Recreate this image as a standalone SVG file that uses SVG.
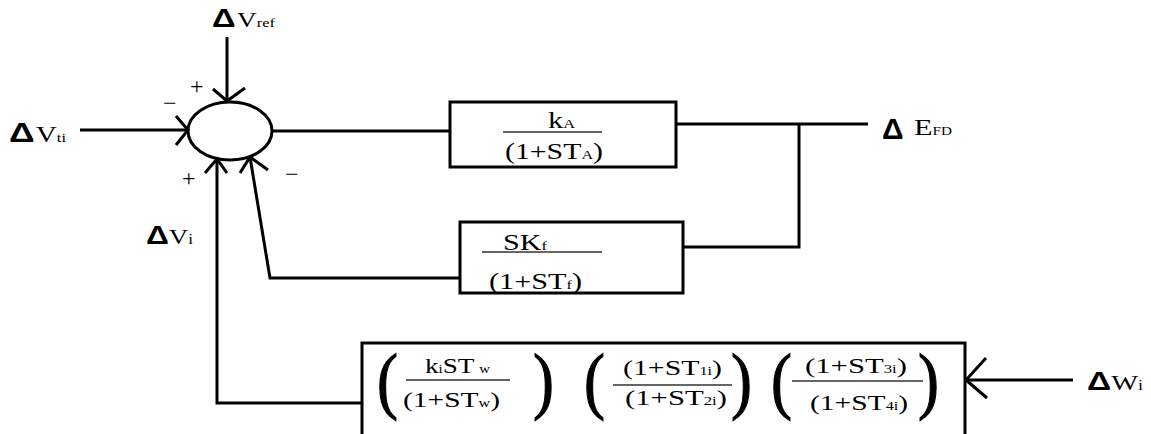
<svg xmlns="http://www.w3.org/2000/svg" width="1151" height="434" viewBox="0 0 1151 434">
<style>
.ln{fill:none;stroke:#000;stroke-width:3}
.bx{fill:#fff;stroke:#000;stroke-width:3}
.t{font-family:"Liberation Serif",serif;fill:#000}
.d{font-family:"Liberation Sans",sans-serif;font-weight:bold;fill:#000}
.bar{stroke:#333;stroke-width:1.5}
.sg{font-family:"Liberation Serif",serif;fill:#000}
.p{font-family:"Liberation Serif",serif;fill:#000;stroke:#000;stroke-width:1.2;font-size:74px}
</style>
<rect width="1151" height="434" fill="#fff"/>
<g id="connectors">
<path class="ln" d="M227,37 V102"/>
<path class="ln" d="M213,89 L227,101 L245,88"/>
<path class="ln" d="M80,130 H188"/>
<path class="ln" d="M176,116 L188,130 L176,145"/>
<path class="ln" d="M272,131 H450"/>
<path class="ln" d="M676,124 H868"/>
<path class="ln" d="M799,124 V247 H683"/>
<path class="ln" d="M460,278 H270 L250,157"/>
<path class="ln" d="M240,173 L250,157 L268,170"/>
<path class="ln" d="M362,403 H217 V160"/>
<path class="ln" d="M205,173 L217,159 L227,173"/>
<path class="ln" d="M1073,380 H966"/>
<path class="ln" d="M986,358 L966,380 L987,398"/>
</g>
<g id="sum">
<ellipse class="ln" cx="230" cy="131" rx="42" ry="29"/>
<text class="sg" x="190" y="94" font-size="24">+</text>
<text class="sg" x="163" y="111" font-size="24">−</text>
<text class="sg" x="182" y="186" font-size="24">+</text>
<text class="sg" x="285" y="182" font-size="24">−</text>
</g>
<g id="vref">
<text x="212" y="27" textLength="63" lengthAdjust="spacingAndGlyphs"><tspan class="d" font-size="26">Δ</tspan><tspan class="t" font-size="22" dx="1">V</tspan><tspan class="t" font-size="13">ref</tspan></text>
</g>
<g id="vti">
<text x="9" y="142" textLength="57" lengthAdjust="spacingAndGlyphs"><tspan class="d" font-size="28">Δ</tspan><tspan class="t" font-size="23" dx="1">V</tspan><tspan class="t" font-size="13">ti</tspan></text>
</g>
<g id="vi">
<text x="146" y="244" textLength="47" lengthAdjust="spacingAndGlyphs"><tspan class="d" font-size="26">Δ</tspan><tspan class="t" font-size="22">V</tspan><tspan class="t" font-size="14">i</tspan></text>
</g>
<g id="efd">
<text x="882" y="139"><tspan class="d" font-size="30">Δ</tspan></text>
<text x="914" y="135" textLength="38" lengthAdjust="spacingAndGlyphs"><tspan class="t" font-size="24">E</tspan><tspan class="t" font-size="12">FD</tspan></text>
</g>
<g id="wi">
<text x="1087" y="390" textLength="56" lengthAdjust="spacingAndGlyphs"><tspan class="d" font-size="26">Δ</tspan><tspan class="t" font-size="22">W</tspan><tspan class="t" font-size="14">i</tspan></text>
</g>
<g id="exciter">
<rect class="bx" x="450" y="102" width="226" height="65"/>
<text class="t" x="548" y="128" font-size="24" textLength="27" lengthAdjust="spacingAndGlyphs">k<tspan font-size="13">A</tspan></text>
<line class="bar" x1="503" y1="132" x2="602" y2="132"/>
<text class="t" x="505" y="159" font-size="24" textLength="98" lengthAdjust="spacingAndGlyphs">(1+ST<tspan font-size="13">A</tspan>)</text>
</g>
<g id="stabilizer">
<rect class="bx" x="460" y="222" width="223" height="71"/>
<text class="t" x="503" y="250" font-size="24" textLength="44" lengthAdjust="spacingAndGlyphs">SK<tspan font-size="13">f</tspan></text>
<line class="bar" x1="482" y1="252" x2="602" y2="252"/>
<text class="t" x="489" y="289" font-size="24" textLength="93" lengthAdjust="spacingAndGlyphs">(1+ST<tspan font-size="13">f</tspan>)</text>
</g>
<g id="pss">
<rect class="bx" x="362" y="343" width="603" height="95"/>
<text class="p" x="377" y="405" transform="translate(377 405) scale(0.85 1) translate(-377 -405)">(</text>
<text class="t" x="425" y="373" font-size="22" textLength="65" lengthAdjust="spacingAndGlyphs">k<tspan font-size="12">i</tspan>ST<tspan font-size="12" dx="4">w</tspan></text>
<line class="bar" x1="406" y1="380" x2="510" y2="380"/>
<text class="t" x="403" y="407" font-size="22" textLength="97" lengthAdjust="spacingAndGlyphs">(1+ST<tspan font-size="12">w</tspan>)</text>
<text class="p" x="533" y="405" transform="translate(533 405) scale(0.85 1) translate(-533 -405)">)</text>
<text class="p" x="584" y="405" transform="translate(584 405) scale(0.85 1) translate(-584 -405)">(</text>
<text class="t" x="623" y="375" font-size="22" textLength="99" lengthAdjust="spacingAndGlyphs">(1+ST<tspan font-size="12">1i</tspan>)</text>
<line class="bar" x1="613" y1="385" x2="732" y2="385"/>
<text class="t" x="625" y="405" font-size="22" textLength="102" lengthAdjust="spacingAndGlyphs">(1+ST<tspan font-size="12">2i</tspan>)</text>
<text class="p" x="731" y="405" transform="translate(731 405) scale(0.85 1) translate(-731 -405)">)</text>
<text class="p" x="771" y="405" transform="translate(771 405) scale(0.85 1) translate(-771 -405)">(</text>
<text class="t" x="805" y="373" font-size="22" textLength="102" lengthAdjust="spacingAndGlyphs">(1+ST<tspan font-size="12">3i</tspan>)</text>
<line class="bar" x1="792" y1="381" x2="923" y2="381"/>
<text class="t" x="810" y="410" font-size="22" textLength="98" lengthAdjust="spacingAndGlyphs">(1+ST<tspan font-size="12">4i</tspan>)</text>
<text class="p" x="918" y="405" transform="translate(918 405) scale(0.85 1) translate(-918 -405)">)</text>
</g>
</svg>
